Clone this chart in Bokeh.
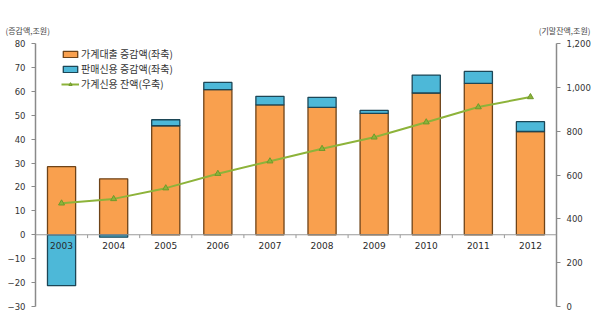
from bokeh.plotting import figure
from bokeh.models import (Range1d, LinearAxis, FixedTicker, NumeralTickFormatter,
                          Span, Label, Legend, LegendItem, ColumnDataSource)
from bokeh.embed import file_html
from bokeh.resources import INLINE
from bokeh.core.properties import value

years = ["2003", "2004", "2005", "2006", "2007", "2008", "2009", "2010", "2011", "2012"]
loan_change = [28.5, 23.4, 45.6, 60.7, 54.3, 53.3, 50.8, 59.3, 63.3, 43.2]
card_change = [-21.3, -1.0, 2.5, 3.0, 3.6, 4.2, 1.2, 7.5, 5.0, 4.1]
credit_balance = [471, 491, 540, 606, 663, 720, 772, 841, 910, 956]
left_ticks = [-30, -20, -10, 0, 10, 20, 30, 40, 50, 60, 70, 80]
right_ticks = [0, 200, 400, 600, 800, 1000, 1200]
left_title = "(증감액,조원)"
right_title = "(기말잔액,조원)"
legend_labels = ["가계대출 증감액(좌축)", "판매신용 증감액(좌축)", "가계신용 잔액(우축)"]

idx = list(range(len(years)))
card_bottom = [0 if c < 0 else l for l, c in zip(loan_change, card_change)]
card_top = [c if c < 0 else l + c for l, c in zip(loan_change, card_change)]

src = ColumnDataSource(dict(x=idx, year=years, loan=loan_change, zero=[0] * len(years),
                            cb=card_bottom, ct=card_top, bal=credit_balance))

FONT = "DejaVu Sans"
KFONT = "Noto Sans CJK KR"

p = figure(width=600, height=325, output_backend="svg", toolbar_location=None,
           x_range=Range1d(-0.5, len(years) - 0.5), y_range=Range1d(left_ticks[0], left_ticks[-1]),
           x_axis_location=None, min_border_left=35, min_border_right=44,
           min_border_top=43, min_border_bottom=19, background_fill_color="white",
           border_fill_color="white", outline_line_color=None)
p.grid.visible = False
p.extra_y_ranges = {"right": Range1d(right_ticks[0], right_ticks[-1])}

ax = p.yaxis[0]
ax.ticker = FixedTicker(ticks=left_ticks)
ax.axis_line_color = "#8a8a8a"
ax.axis_line_width = 1.5
ax.major_tick_line_color = "#8a8a8a"
ax.major_tick_out = 4
ax.major_tick_in = 0
ax.minor_tick_line_color = None
ax.major_label_text_font = FONT
ax.major_label_text_font_size = "8.5px"
ax.major_label_text_color = "#333333"
ax.major_label_standoff = 6

rax = LinearAxis(y_range_name="right", ticker=FixedTicker(ticks=right_ticks),
                 formatter=NumeralTickFormatter(format="0,0"))
rax.axis_line_color = "#8a8a8a"
rax.axis_line_width = 1.5
rax.major_tick_line_color = "#8a8a8a"
rax.major_tick_out = 4
rax.major_tick_in = 0
rax.minor_tick_line_color = None
rax.major_label_text_font = FONT
rax.major_label_text_font_size = "8.5px"
rax.major_label_text_color = "#333333"
rax.major_label_standoff = 6
p.add_layout(rax, "right")

w = 0.54
r_loan = p.vbar(x="x", bottom="zero", top="loan", width=w, source=src,
                fill_color="#F9A04E", line_color="#6e4318", line_width=1.3)
r_card = p.vbar(x="x", bottom="cb", top="ct", width=w, source=src,
                fill_color="#4DB8D8", line_color="#1c4656", line_width=1.3)

# zero line with boundary ticks
p.add_layout(Span(location=0, dimension="width", line_color="#9a9a9a", line_width=1.2))
bounds = [i + 0.5 for i in idx[:-1]]
p.segment(x0=bounds, x1=bounds, y0=[0] * len(bounds), y1=[-1.4] * len(bounds),
          line_color="#9a9a9a", line_width=1)

p.text(x="x", y="zero", text="year", source=src, text_align="center",
       text_baseline="middle", y_offset=11, text_font=value(FONT),
       text_font_size="9px", text_color="#2a2a2a")

r_line = p.line(x="x", y="bal", source=src, y_range_name="right",
                line_color="#8DB33A", line_width=2)
r_pts = p.scatter(x="x", y="bal", source=src, y_range_name="right", marker="triangle",
                  size=6, fill_color="#8DB33A", line_color="#6f9a2a")

legend = Legend(items=[LegendItem(label=legend_labels[0], renderers=[r_loan]),
                       LegendItem(label=legend_labels[1], renderers=[r_card]),
                       LegendItem(label=legend_labels[2], renderers=[r_line, r_pts])],
                location=(26, 215), orientation="vertical", padding=0, spacing=0,
                label_height=13, glyph_height=8, glyph_width=18, label_standoff=2,
                border_line_color=None, background_fill_alpha=0,
                label_text_font=KFONT, label_text_font_size="10px",
                label_text_color="#333333", margin=0)
p.add_layout(legend, "center")

p.add_layout(Label(x=5, y=30, x_units="canvas", y_units="canvas", text=left_title,
                   text_font=KFONT, text_font_size="8px", text_color="#444444",
                   text_baseline="middle", text_align="left"), "above")
p.add_layout(Label(x=590, y=30, x_units="canvas", y_units="canvas",
                   text=right_title, text_font=KFONT, text_font_size="8px",
                   text_color="#444444", text_baseline="middle", text_align="right"), "above")

open("out.html", "w").write(file_html(p, INLINE))
